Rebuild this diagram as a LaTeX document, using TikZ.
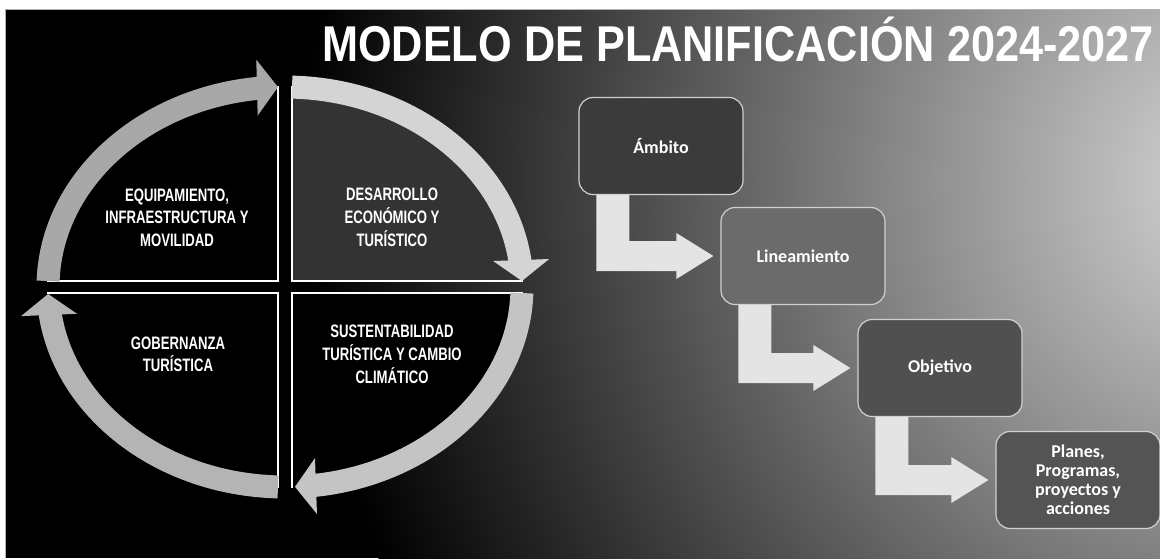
\documentclass[tikz,border=0pt]{standalone}
\usepackage{fontspec}
\setmainfont{Liberation Sans}
\newfontfamily\boxfont{Carlito}
\usetikzlibrary{calc}
\definecolor{bgl}{gray}{0.85}
\definecolor{quadtr}{HTML}{333333}
\definecolor{arcA}{HTML}{A8A8A8}
\definecolor{arcB}{HTML}{D4D4D4}
\definecolor{arcC}{HTML}{C4C4C4}
\definecolor{arcD}{HTML}{B4B4B4}
\definecolor{larrowc}{HTML}{E4E4E4}
\definecolor{boxA}{HTML}{3B3B3B}
\definecolor{boxB}{HTML}{6B6B6B}
\definecolor{boxC}{HTML}{505050}
\definecolor{boxD}{HTML}{545454}
\definecolor{boxline}{HTML}{D0D0D0}
\begin{document}
\begin{tikzpicture}[x=1pt,y=1pt,
  quad/.style={draw=white, line width=1.1pt},
  qtext/.style={text=white, font=\fontsize{18}{22.5}\selectfont\bfseries, inner sep=0pt},
  flowbox/.style={draw=boxline, line width=1.2pt, rounded corners=14pt, minimum width=164pt, minimum height=97pt, inner sep=2pt, text=white, font=\boxfont\bfseries\fontsize{18}{19}\selectfont, align=center},
  band/.style={line width=23pt},
  larrow/.style={fill=larrowc}]
\useasboundingbox (0,0) rectangle (1160,-558);
\clip (0,0) rectangle (1160,-558);
\fill[white] (0,0) rectangle (1160,-558);
% slide background
\begin{scope}
  \clip (5,-9) rectangle (1160,-558);
  \fill[black] (5,-9) rectangle (1160,-558);
  \shade[inner color=bgl, outer color=black] (1250,-180) circle (950);
\end{scope}
\draw[gray!60, line width=0.8pt] (5,-558) -- (5,-9) -- (1160,-9);

% title
\node[anchor=base west, inner sep=0pt, text=white] (title) at (322,-61)
  {\scalebox{0.86}[1]{\fontsize{50.3}{52}\selectfont\bfseries MODELO DE PLANIFICACIÓN 2024-2027}};

% quadrants
\coordinate (C) at (285,-287);
\begin{scope}
  \clip (C) ellipse [x radius=238, y radius=201];
  \filldraw[quad, fill=black] (278,-281) rectangle (30,-70);
  \filldraw[quad, fill=quadtr] (292,-281) rectangle (540,-70);
  \filldraw[quad, fill=black] (292,-293) rectangle (540,-505);
  \filldraw[quad, fill=black] (278,-293) rectangle (30,-505);
\end{scope}

% cycle arcs
\draw[band, draw=arcA] (C) ++(178.3:237 and 200) arc[start angle=178.3, end angle=96, x radius=237, y radius=200];
\begin{scope}[shift={(277.97,-87.09)}, rotate=1.43]
  \fill[arcA] (0,0) -- (-21,28) -- (-21,-28) -- cycle;
\end{scope}
\draw[band, draw=arcB] (C) ++(88.3:237 and 200) arc[start angle=88.3, end angle=7, x radius=237, y radius=200];
\begin{scope}[shift={(521.9,-281)}, rotate=-87.96]
  \fill[arcB] (0,0) -- (-21,28) -- (-21,-28) -- cycle;
\end{scope}
\draw[band, draw=arcC] (C) ++(-1.72:237 and 200) arc[start angle=-1.72, end angle=-83.3, x radius=237, y radius=200];
\begin{scope}[shift={(295,-486.8)}, rotate=182.04]
  \fill[arcC] (0,0) -- (-21,28) -- (-21,-28) -- cycle;
\end{scope}
\draw[band, draw=arcD] (C) ++(268.3:237 and 200) arc[start angle=268.3, end angle=187.3, x radius=237, y radius=200];
\begin{scope}[shift={(48.14,-293.98)}, rotate=92.37]
  \fill[arcD] (0,0) -- (-21,28) -- (-21,-28) -- cycle;
\end{scope}

% quadrant texts
\node[qtext] (q1) at (177,-219) {\scalebox{0.73}[1]{\begin{tabular}{@{}c@{}}EQUIPAMIENTO,\\INFRAESTRUCTURA Y\\MOVILIDAD\end{tabular}}};
\node[qtext] (q2) at (392,-219) {\scalebox{0.73}[1]{\begin{tabular}{@{}c@{}}DESARROLLO\\ECONÓMICO Y\\TURÍSTICO\end{tabular}}};
\node[qtext] (q3) at (178,-356) {\scalebox{0.73}[1]{\begin{tabular}{@{}c@{}}GOBERNANZA\\TURÍSTICA\end{tabular}}};
\node[qtext] (q4) at (392,-356) {\scalebox{0.73}[1]{\begin{tabular}{@{}c@{}}SUSTENTABILIDAD\\TURÍSTICA Y CAMBIO\\CLIMÁTICO\end{tabular}}};

% flow boxes
\node[flowbox, fill=boxA] (amb) at (661,-146) {Ámbito};
\node[flowbox, fill=boxB] (lin) at (803,-256) {Lineamiento};
\node[flowbox, fill=boxC] (obj) at (940,-368) {Objetivo};
\node[flowbox, fill=boxD] (pla) at (1078,-480) {Planes,\\Programas,\\proyectos y\\acciones};

% bent arrows
\fill[larrow] let \p1=(amb.south west), \p2=(lin.west) in
  (\x1+18,\y1) -- (\x1+51,\y1) -- (\x1+51,\y2+15) -- (\x2-44,\y2+15) -- (\x2-44,\y2+23)
  -- (\x2-7,\y2) -- (\x2-44,\y2-23) -- (\x2-44,\y2-15) -- (\x1+18,\y2-15) -- cycle;
\fill[larrow] let \p1=(lin.south west), \p2=(obj.west) in
  (\x1+18,\y1) -- (\x1+51,\y1) -- (\x1+51,\y2+15) -- (\x2-44,\y2+15) -- (\x2-44,\y2+23)
  -- (\x2-7,\y2) -- (\x2-44,\y2-23) -- (\x2-44,\y2-15) -- (\x1+18,\y2-15) -- cycle;
\fill[larrow] let \p1=(obj.south west), \p2=(pla.west) in
  (\x1+18,\y1) -- (\x1+51,\y1) -- (\x1+51,\y2+15) -- (\x2-44,\y2+15) -- (\x2-44,\y2+23)
  -- (\x2-7,\y2) -- (\x2-44,\y2-23) -- (\x2-44,\y2-15) -- (\x1+18,\y2-15) -- cycle;
\end{tikzpicture}
\end{document}
